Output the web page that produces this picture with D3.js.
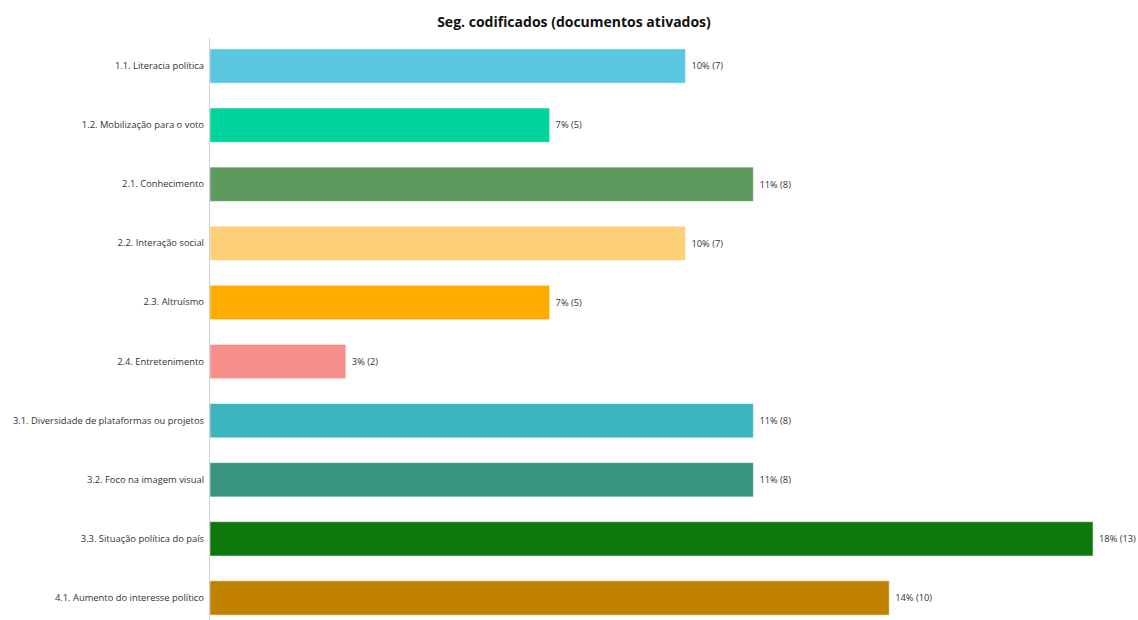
<!DOCTYPE html>
<html><head><meta charset="utf-8">
<script src="https://cdn.jsdelivr.net/npm/d3@7/dist/d3.min.js"></script>
<style>body{margin:0;background:#fff}svg{display:block}</style>
</head><body><svg id="c" width="1138" height="620"></svg>
<script>
const categories = ["1.1. Literacia política","1.2. Mobilização para o voto","2.1. Conhecimento","2.2. Interação social","2.3. Altruísmo","2.4. Entretenimento","3.1. Diversidade de plataformas ou projetos","3.2. Foco na imagem visual","3.3. Situação política do país","4.1. Aumento do interesse político"];
const counts = [7,5,8,7,5,2,8,8,13,10];
const percentLabels = ["10%","7%","11%","10%","7%","3%","11%","11%","18%","14%"];
const colors = ["#5bc6e0","#00d49c","#5e9a5e","#ffd07a","#ffab00","#f48f89","#3db5bf","#3a9580","#0d790d","#c08000"];
const title = "Seg. codificados (documentos ativados)";

const svg = d3.select("#c");
const font = "'Open Sans', 'Noto Sans', sans-serif";
const x = d3.scaleLinear().domain([0,13]).range([210,1093]);
const y = d3.scaleBand().domain(categories).range([36.5,627.5]).paddingInner(0.42).paddingOuter(0.21);

svg.append("text").attr("x",574).attr("y",27).attr("text-anchor","middle")
  .attr("font-family",font).attr("font-weight","bold").attr("font-size",14).attr("fill","#111").text(title);

const bars = svg.append("g");
bars.selectAll("rect").data(categories).join("rect")
  .attr("x",x(0)).attr("y",d=>y(d)).attr("height",y.bandwidth())
  .attr("width",(d,i)=>x(counts[i])-x(0))
  .attr("fill",(d,i)=>colors[i]).attr("stroke","#ffffff").attr("stroke-opacity",0.5).attr("stroke-width",1);

bars.selectAll("text").data(categories).join("text")
  .attr("x",(d,i)=>x(counts[i])+6).attr("y",d=>y(d)+y.bandwidth()/2).attr("dy","0.35em")
  .attr("font-family",font).attr("font-size",9.3).attr("fill","#333")
  .text((d,i)=>`${percentLabels[i]} (${counts[i]})`);

const ax = svg.append("g").attr("transform",`translate(${x(0)},0)`)
  .call(d3.axisLeft(y).tickSize(0).tickPadding(6));
ax.select(".domain").remove();
ax.selectAll("text").attr("font-family",font).attr("font-size",9.4).attr("fill","#333");
svg.append("line").attr("x1",x(0)-0.5).attr("x2",x(0)-0.5).attr("y1",38).attr("y2",620)
  .attr("stroke","#d0d0d0").attr("stroke-width",1);
</script></body></html>
